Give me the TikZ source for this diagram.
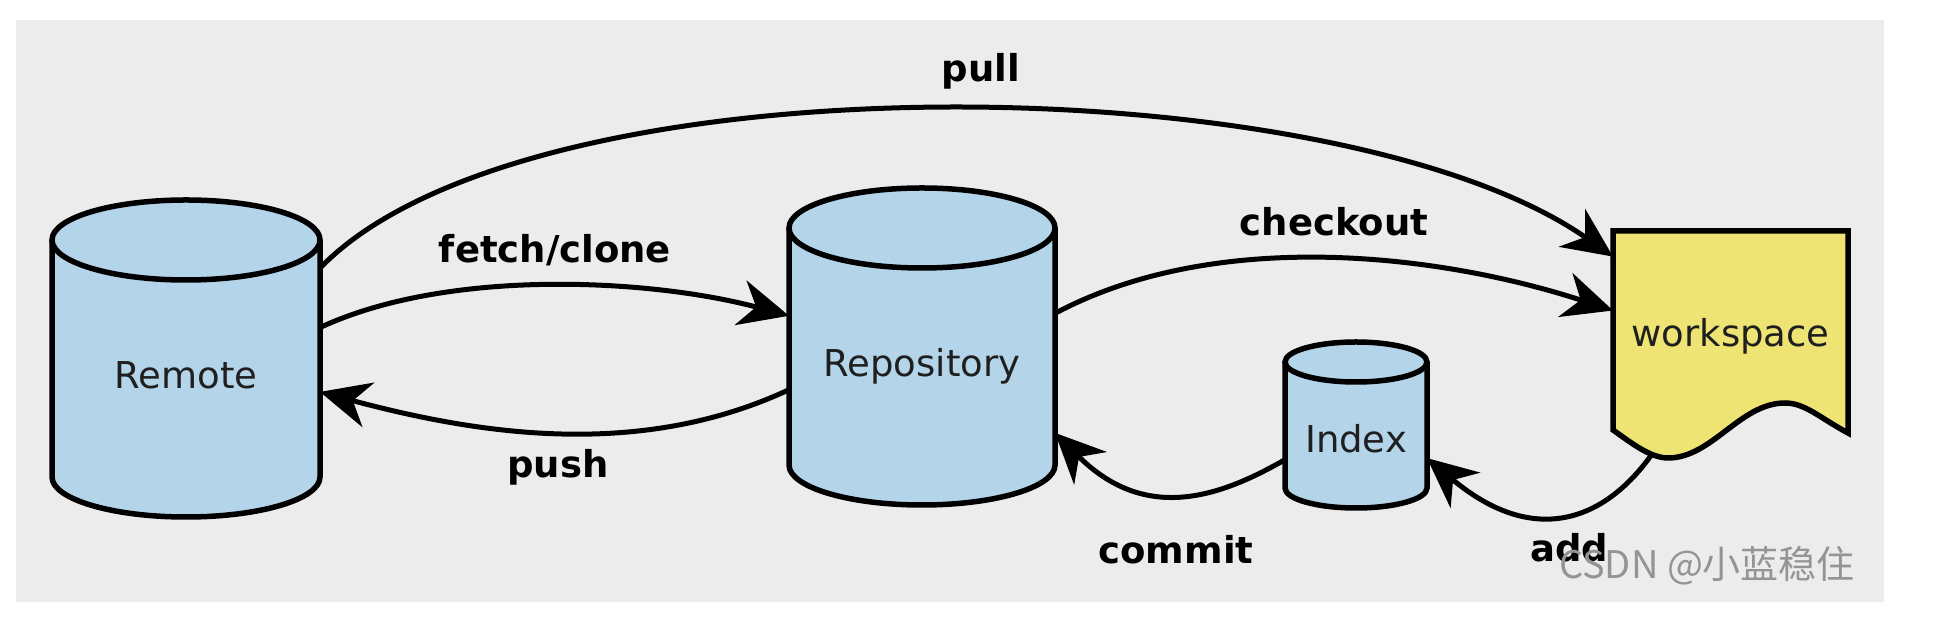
\documentclass[tikz,border=0pt]{standalone}
\usepackage{fontspec}
\setmainfont{DejaVu Sans}
\newfontfamily\cjkfont{Noto Sans CJK SC}
\usetikzlibrary{arrows.meta}
\definecolor{dbblue}{RGB}{179,212,233}
\definecolor{wsyellow}{RGB}{238,228,116}
\definecolor{bggrey}{RGB}{236,236,236}

\begin{document}
\begin{tikzpicture}[x=1pt, y=1pt,
  db/.style={draw=black, line width=5.5pt, fill=dbblue},
  ws/.style={draw=black, line width=5.5pt, fill=wsyellow},
  box/.style={inner sep=0pt, outer sep=0pt, text depth=0pt, text=black!88, font=\fontsize{37}{44}\selectfont},
  lbl/.style={inner sep=0pt, font=\fontsize{37}{44}\selectfont\bfseries},
  arr/.style={line width=5pt, -{Stealth[length=50pt, width=46pt, inset=16pt]}}]
\useasboundingbox (0,0) rectangle (1936,628);
\fill[white] (0,0) rectangle (1936,628);
\fill[bggrey] (16,26) rectangle (1884,608);

\filldraw[db] (52,388) -- (52,151) arc[start angle=180, end angle=360, x radius=134, y radius=40] -- (320,388);
\filldraw[db] (186,388) ellipse[x radius=134, y radius=40];
\filldraw[db] (789,400) -- (789,163) arc[start angle=180, end angle=360, x radius=133, y radius=40] -- (1055,400);
\filldraw[db] (922,400) ellipse[x radius=133, y radius=40];
\filldraw[db] (1285,266) -- (1285,140) arc[start angle=180, end angle=360, x radius=71, y radius=20] -- (1427,266);
\filldraw[db] (1356,266) ellipse[x radius=71, y radius=20];
\filldraw[ws] (1613,397) -- (1848,397) -- (1848,195) .. controls (1820,210) and (1805,225) .. (1785,225)
  .. controls (1740,225) and (1712,170) .. (1668,170) .. controls (1650,170) and (1630,186) .. (1613,198) -- cycle;

\node[box, minimum width=268pt, minimum height=237pt, text height=61pt] (remote) at (186,269.5) {Remote};
\node[box, minimum width=266pt, minimum height=237pt, text height=61pt] (repo) at (922,281.5) {Repository};
\node[box, minimum width=142pt, minimum height=126pt, text height=56pt] (index) at (1356,203) {Index};
\node[box, minimum width=235pt, minimum height=222pt, text height=10pt] (work) at (1730.5,286) {workspace};

\draw[arr] (remote.34) .. controls +(46:300) and +(145:335) .. (work.144);
\draw[arr] (remote.13) .. controls +(25:142) and +(165:142) .. (repo.167);
\draw[arr] (repo.198) .. controls +(205:165) and +(-15:165) .. (remote.-14);
\draw[arr] (repo.14) .. controls +(28:183) and +(162:183) .. (work.165);
\draw[arr] (index.206) .. controls +(210:80) and +(-45:125) .. (repo.-33);
\draw[arr] (work.235) .. controls +(235:86) and +(-40:137) .. (index.-25);

\node[lbl] (pull) at (981,557) {pull};
\node[lbl] (fetch) at (555,378) {fetch/clone};
\node[lbl] (checkout) at (1334,406) {checkout};
\node[lbl] (push) at (558,161) {push};
\node[lbl] (commit) at (1176,78) {commit};
\node[lbl] (add) at (1569,80) {add};
\node[font=\cjkfont\fontsize{38}{46}\selectfont, text=black!42, inner sep=0pt] (mark) at (1707,62) {CSDN @小蓝稳住};
\end{tikzpicture}
\end{document}
